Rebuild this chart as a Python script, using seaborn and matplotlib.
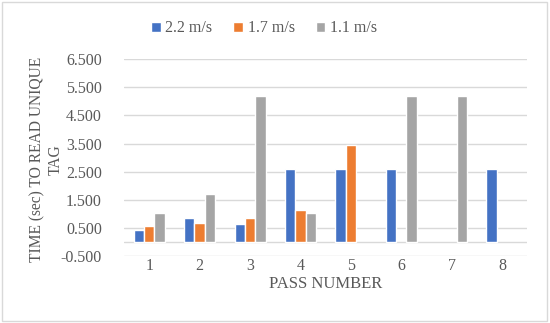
import numpy as np
import pandas as pd
import matplotlib
matplotlib.use('Agg')
import matplotlib.pyplot as plt
import seaborn as sns

# values (NaN = no bar)
passes = [1, 2, 3, 4, 5, 6, 7, 8]
speed_labels = ["2.2 m/s", "1.7 m/s", "1.1 m/s"]
v_22 = [0.42, 0.87, 0.64, 2.6, 2.6, 2.6, np.nan, 2.6]
v_17 = [0.56, 0.68, 0.87, 1.14, 3.45, np.nan, np.nan, np.nan]
v_11 = [1.02, 1.72, 5.2, 1.02, np.nan, 5.2, 5.2, np.nan]
y_ticks = [-0.5, 0.5, 1.5, 2.5, 3.5, 4.5, 5.5, 6.5]

colors = ["#4472C4", "#ED7D31", "#A5A5A5"]

df = pd.DataFrame({
    "pass": [str(p) for p in passes] * 3,
    "speed": np.repeat(speed_labels, len(passes)),
    "time": v_22 + v_17 + v_11,
})

sns.set_theme(style="white")
plt.rcParams['font.family'] = ['Liberation Serif', 'DejaVu Serif']

fig = plt.figure(figsize=(5.5, 3.23), dpi=100)
ax = fig.add_axes([0.2255, 0.207, 0.733, 0.61])

sns.barplot(data=df, x="pass", y="time", hue="speed", hue_order=speed_labels,
            palette=colors, width=0.615, saturation=1, ax=ax, legend=True)

ax.set_ylim(-0.5, 6.5)
ax.set_yticks(y_ticks)
ax.set_yticklabels([f"{t:.3f}" for t in y_ticks], color="#595959", fontsize=11.5)
ax.tick_params(axis='x', colors="#595959", labelsize=11.5, length=0, pad=1)
ax.tick_params(axis='y', length=0, pad=16)
for t in y_ticks:
    ax.axhline(t, color="#D9D9D9", linewidth=1, zorder=0)
ax.axhline(0, color="#D9D9D9", linewidth=1, zorder=0)
for s in ax.spines.values():
    s.set_visible(False)

ax.set_xlabel("PASS NUMBER", color="#595959", fontsize=12, labelpad=2)
ax.set_ylabel("TIME (sec) TO READ UNIQUE\nTAG", color="#595959", fontsize=11.2,
              linespacing=1.25)
ax.yaxis.set_label_coords(-0.149, 0.49)

handles, labels = ax.get_legend_handles_labels()
ax.get_legend().remove()
leg = fig.legend(handles, labels, loc='center', bbox_to_anchor=(0.48, 0.912), ncol=3,
                 frameon=False, fontsize=11.5, handlelength=0.6, handleheight=0.6,
                 handletextpad=0.3, columnspacing=1.3)
for txt in leg.get_texts():
    txt.set_color("#595959")

fig.patches.append(plt.Rectangle((0.004, 0.006), 0.99, 0.988, transform=fig.transFigure,
                                 fill=False, edgecolor="#D9D9D9", linewidth=1))

fig.savefig("out.png", dpi=100)
